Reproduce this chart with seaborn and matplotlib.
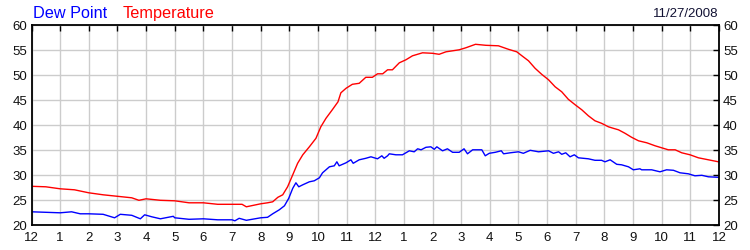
import matplotlib
matplotlib.use("Agg")
import matplotlib.pyplot as plt
import seaborn as sns
import pandas as pd

# ---- data (hours after midnight, degrees F) ----
temp_hours = [0, 0.5, 1, 1.5, 2, 2.5, 3, 3.5, 3.75, 4, 4.5, 5, 5.5, 6, 6.5, 7, 7.35, 7.5, 8,
              8.24, 8.42, 8.6, 8.77, 8.94, 9.12, 9.29, 9.47, 9.7, 9.93, 10.1, 10.28, 10.5,
              10.7, 10.8, 10.98, 11.2, 11.44, 11.67, 11.9, 12.08, 12.26, 12.43, 12.6, 12.84,
              13.07, 13.3, 13.65, 14.0, 14.23, 14.47, 14.93, 15.16, 15.5, 15.86, 16.3, 16.65,
              16.94, 17.12, 17.35, 17.58, 17.81, 18.05, 18.28, 18.51, 18.74, 18.98, 19.21,
              19.44, 19.67, 19.9, 20.14, 20.31, 20.49, 20.72, 20.95, 21.19, 21.48, 21.77,
              22.0, 22.23, 22.47, 22.7, 22.99, 23.28, 23.63, 23.98]
temp_values = [27.8, 27.7, 27.3, 27.1, 26.5, 26.1, 25.8, 25.5, 25.0, 25.3, 25.0, 24.9, 24.5, 24.5,
               24.2, 24.2, 24.2, 23.7, 24.3,
               24.5, 24.7, 25.6, 26.1, 27.7, 30.1, 32.4, 34.1, 35.7, 37.4, 39.7, 41.4, 43.1,
               44.7, 46.5, 47.4, 48.2, 48.4, 49.6, 49.6, 50.3, 50.3, 51.1, 51.1, 52.5,
               53.1, 53.9, 54.5, 54.4, 54.2, 54.7, 55.1, 55.5, 56.2, 56.0, 55.9, 55.2,
               54.7, 53.9, 52.9, 51.4, 50.2, 49.1, 47.7, 46.7, 45.2, 44.1, 43.1,
               41.9, 40.9, 40.4, 39.7, 39.4, 39.1, 38.4, 37.6, 36.9, 36.5, 35.9,
               35.5, 35.1, 35.1, 34.5, 34.1, 33.5, 33.1, 32.7]

dew_hours = [0, 0.5, 1, 1.4, 1.7, 2, 2.5, 2.9, 3.1, 3.5, 3.8, 3.95, 4.2, 4.5, 4.95, 5, 5.5, 6,
             6.5, 7, 7.1, 7.25, 7.5, 8,
             8.24, 8.42, 8.65, 8.83, 8.98, 9.12, 9.23, 9.33, 9.47, 9.7, 9.87, 10.05, 10.16,
             10.4, 10.57, 10.66, 10.74, 10.98, 11.15, 11.23, 11.44, 11.67, 11.85, 12.08,
             12.23, 12.31, 12.43, 12.49, 12.72, 12.95, 13.19, 13.36, 13.48, 13.6, 13.77,
             13.94, 14.06, 14.15, 14.35, 14.52, 14.7, 14.93, 15.1, 15.22, 15.4, 15.72,
             15.84, 15.98, 16.19, 16.4, 16.48, 16.71, 17.0, 17.17, 17.41, 17.7, 18.05,
             18.22, 18.4, 18.51, 18.65, 18.8, 18.95, 19.09, 19.44, 19.67, 19.9, 20.02,
             20.2, 20.43, 20.6, 20.84, 21.01, 21.24, 21.3, 21.65, 21.94, 22.17, 22.41,
             22.64, 22.93, 23.16, 23.4, 23.63, 23.98]
dew_values = [22.7, 22.6, 22.5, 22.7, 22.3, 22.3, 22.2, 21.5, 22.2, 22.0, 21.3, 22.1, 21.7,
              21.3, 21.8, 21.5, 21.2, 21.3, 21.1, 21.1, 20.9, 21.4, 21.0, 21.5,
              21.6, 22.3, 23.1, 23.9, 25.4, 27.4, 28.5, 27.7, 28.1, 28.7, 28.9, 29.5, 30.5,
              31.7, 31.9, 32.7, 31.9, 32.5, 33.1, 32.4, 33.1, 33.4, 33.7, 33.3,
              33.9, 33.4, 33.9, 34.3, 34.1, 34.1, 34.9, 34.7, 35.3, 35.1, 35.6,
              35.7, 35.2, 35.7, 34.9, 35.3, 34.6, 34.6, 35.3, 34.3, 35.1, 35.1,
              33.9, 34.4, 34.6, 34.9, 34.3, 34.5, 34.7, 34.4, 35.0, 34.7, 34.9,
              34.4, 34.7, 34.2, 34.5, 33.7, 34.1, 33.5, 33.3, 33.0, 33.0, 32.7,
              33.1, 32.2, 32.1, 31.7, 31.1, 31.3, 31.1, 31.1, 30.7, 31.1, 31.0,
              30.5, 30.3, 29.9, 30.0, 29.7, 29.6]

hour_ticks = list(range(25))
hour_labels = ["12", "1", "2", "3", "4", "5", "6", "7", "8", "9", "10", "11",
               "12", "1", "2", "3", "4", "5", "6", "7", "8", "9", "10", "11", "12"]
y_ticks = [20, 25, 30, 35, 40, 45, 50, 55, 60]
series_names = ["Dew Point", "Temperature"]
series_colors = ["#0000ff", "#ff0000"]
date_label = "11/27/2008"

df = pd.concat([
    pd.DataFrame({"hour": dew_hours, "value": dew_values, "series": series_names[0]}),
    pd.DataFrame({"hour": temp_hours, "value": temp_values, "series": series_names[1]}),
], ignore_index=True)

sns.set_theme(style="white")
plt.rcParams["font.family"] = ["Liberation Sans", "DejaVu Sans"]

fig = plt.figure(figsize=(7.5, 2.5), dpi=100)
ax = fig.add_axes([31.5 / 750, 1 - 225.3 / 250, (719 - 31.5) / 750, 200 / 250])

sns.lineplot(data=df, x="hour", y="value", hue="series",
             palette=dict(zip(series_names, series_colors)),
             hue_order=series_names, linewidth=1.0, legend=False, ax=ax,
             estimator=None, sort=False)

ax.set_xlim(0, 24)
ax.set_ylim(20, 60)
ax.set_xticks(hour_ticks)
ax.set_xticklabels(hour_labels)
ax.set_yticks(y_ticks)
ax.set_xlabel("")
ax.set_ylabel("")
ax.grid(True, color="#cccccc", linewidth=1.0)
ax.set_axisbelow(True)
for s in ax.spines.values():
    s.set_color("black")
    s.set_linewidth(1.3)
ax.tick_params(direction="in", length=4, width=1, color="black",
               top=True, right=True, labelright=True, labelsize=9.5,
               labelcolor="#111111", pad=3)
ax.tick_params(axis="x", pad=5)

fig.text(33 / 750, 1 - 18 / 250, series_names[0], color=series_colors[0],
         fontsize=11.7, ha="left", va="baseline")
fig.text(123 / 750, 1 - 18 / 250, series_names[1], color=series_colors[1],
         fontsize=11.7, ha="left", va="baseline")
fig.text(718 / 750, 1 - 17 / 250, date_label, color="#111133",
         fontsize=9.5, ha="right", va="baseline")

fig.savefig("out.png", dpi=100)
